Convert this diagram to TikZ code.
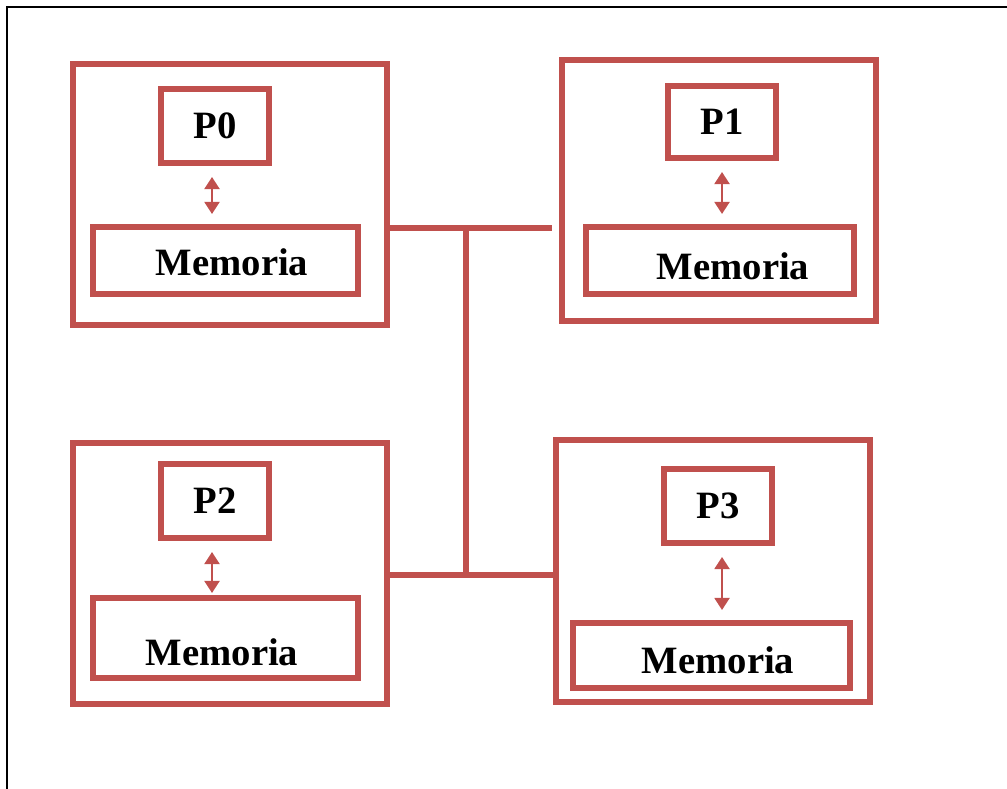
\documentclass[tikz,border=0pt]{standalone}
\usepackage{fontspec}
\setmainfont{Liberation Serif}
\usetikzlibrary{arrows.meta}
\definecolor{rougeM}{RGB}{192, 80, 77}

\begin{document}
\begin{tikzpicture}[x=0.01cm, y=-0.01cm,
    noeud/.style={draw=rougeM, line width=0.06cm, minimum width=3.14cm, minimum height=2.61cm},
    proc/.style={draw=rougeM, line width=0.06cm, minimum width=1.08cm, minimum height=0.74cm,
      font=\fontsize{11pt}{13pt}\selectfont\bfseries},
    mem/.style={draw=rougeM, line width=0.06cm, minimum height=0.67cm},
    txt/.style={font=\fontsize{11pt}{13pt}\selectfont\bfseries, inner sep=0pt},
    lien/.style={rougeM, line width=0.02cm, {Triangle[width=0.15cm,length=0.12cm]}-{Triangle[width=0.15cm,length=0.12cm]},
      shorten <=0.11cm, shorten >=0.10cm},
    bus/.style={rougeM, line width=0.06cm}]
    \useasboundingbox (0,0) rectangle (1007,789);
    \draw[black, line width=0.02cm] (7,789) -- (7,7) -- (1007,7);
    % les quatre noeuds
    \node[noeud] (n0) at (230,194.5) {};
    \node[noeud] (n1) at (719,190.5) {};
    \node[noeud] (n2) at (230,573.5) {};
    \node[noeud, minimum height=2.62cm] (n3) at (713,571) {};
    % processeurs
    \node[proc] (p0) at (215,126) {P0};
    \node[proc, minimum height=0.72cm] (p1) at (722,122) {P1};
    \node[proc] (p2) at (215,501) {P2};
    \node[proc] (p3) at (718,506) {P3};
    % memoires locales
    \node[mem, minimum width=2.65cm] (m0) at (225.5,260.5) {};
    \node[mem, minimum width=2.68cm] (m1) at (720,260.5) {};
    \node[mem, minimum width=2.65cm, minimum height=0.80cm] (m2) at (225.5,638) {};
    \node[mem, minimum width=2.77cm, minimum height=0.65cm] (m3) at (711.5,655.5) {};
    \node[txt] (t0) at (232,262) {Memoria};
    \node[txt] (t1) at (733,266) {Memoria};
    \node[txt] (t2) at (222,652) {Memoria};
    \node[txt] (t3) at (718,660) {Memoria};
    \draw[lien] ([xshift=-0.03cm]p0.south) -- ([xshift=-0.03cm]p0.south |- m0.north);
    \draw[lien] (p1.south) -- (p1.south |- m1.north);
    \draw[lien, shorten >=0.02cm] ([xshift=-0.03cm]p2.south) -- ([xshift=-0.03cm]p2.south |- m2.north);
    \draw[lien] ([xshift=0.04cm]p3.south) -- ([xshift=0.04cm]p3.south |- m3.north);
    % bus
    \coordinate (jh) at (466,228);
    \coordinate (jb) at (466,575);
    \draw[bus] (n0.east |- jh) -- ([xshift=-0.07cm]n1.west |- jh);
    \draw[bus] (jh) -- (jb);
    \draw[bus] (n2.east |- jb) -- (n3.west |- jb);
\end{tikzpicture}
\end{document}
